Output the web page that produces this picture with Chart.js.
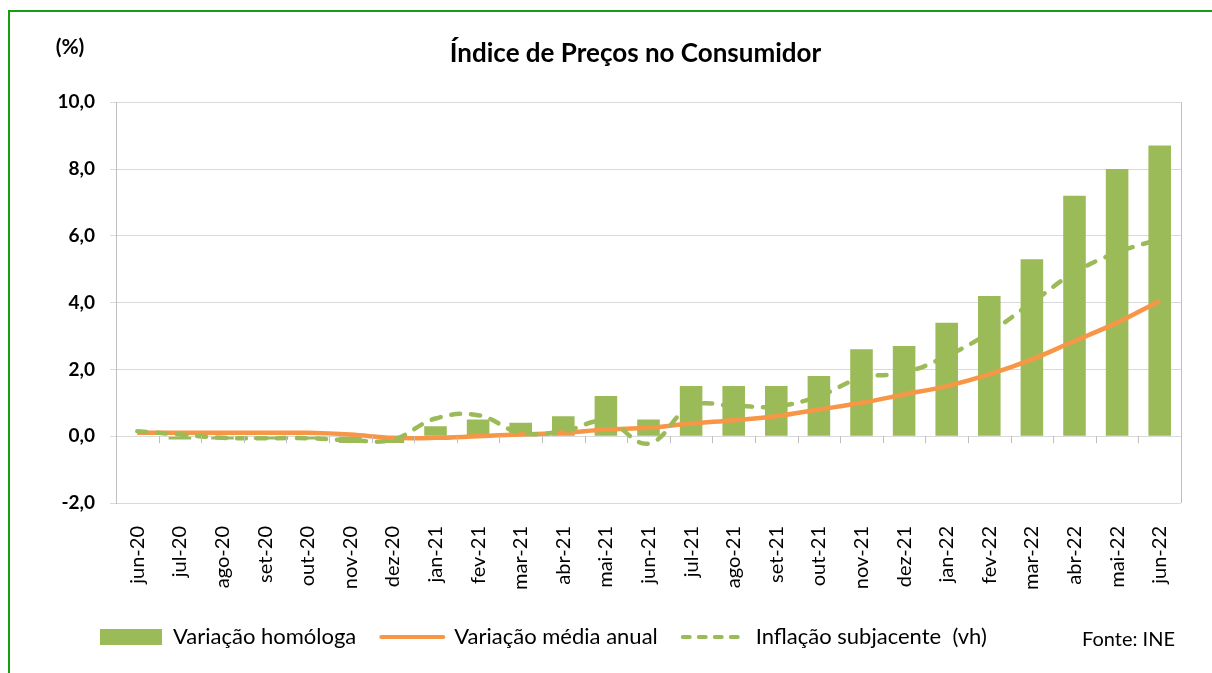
<!DOCTYPE html>
<html lang="pt">
<head>
<meta charset="utf-8">
<title>Índice de Preços no Consumidor</title>
<script src="https://cdn.jsdelivr.net/npm/chart.js@4.4.1/dist/chart.umd.min.js"></script>
<style>
  html,body{margin:0;padding:0;background:#fff;overflow:hidden}
  #wrap{position:relative;width:1212px;height:673px}
  #frame{position:absolute;left:8px;top:10px;width:1220px;height:700px;border-left:2px solid #12a012;border-top:2px solid #12a012;pointer-events:none}
  canvas{position:absolute;left:0;top:0}
</style>
</head>
<body>
<div id="wrap">
  <canvas id="chart" width="1212" height="673"></canvas>
  <div id="frame"></div>
</div>
<script>
// data
const months = ['jun-20','jul-20','ago-20','set-20','out-20','nov-20','dez-20',
  'jan-21','fev-21','mar-21','abr-21','mai-21','jun-21','jul-21','ago-21','set-21','out-21','nov-21','dez-21',
  'jan-22','fev-22','mar-22','abr-22','mai-22','jun-22'];
const homologa = [0.0,-0.1,-0.1,-0.1,-0.1,-0.2,-0.2, 0.3,0.5,0.4,0.6,1.2,0.5,1.5,1.5,1.5,1.8,2.6,2.7, 3.4,4.2,5.3,7.2,8.0,8.7];
const mediaAnual = [0.1,0.1,0.1,0.1,0.1,0.05,-0.05, -0.05,0.0,0.05,0.1,0.2,0.25,0.38,0.48,0.6,0.8,1.0,1.25, 1.5,1.85,2.3,2.85,3.4,4.05];
const subjacente = [0.15,0.05,-0.05,-0.06,-0.06,-0.12,-0.1, 0.53,0.63,0.1,0.15,0.45,-0.22,0.9,0.91,0.89,1.2,1.75,1.9, 2.4,3.1,4.0,4.9,5.5,5.9];
const yTicks = [-2,0,2,4,6,8,10];

const GREEN = '#9bbb59';
const ORANGE = '#f79646';
const GRID = '#d9d9d9';
const FONT = 'Lato, "Noto Sans", sans-serif';

const fmt = v => v.toFixed(1).replace('.', ',');

// extra bits drawn from the scales: zero-line tick marks, plot border, (%) and source
const extras = {
  id:'extras',
  afterLayout(chart){
    // legend starts further right than the layout padding, title sits a bit right of centre
    chart.legend.left = 75;
    chart.titleBlock.left += 20;
    chart.titleBlock.right += 20;
  },
  afterDraw(chart){
    const {ctx, chartArea, scales:{x, y}} = chart;
    const y0 = y.getPixelForValue(0);
    const step = x.getPixelForValue(1) - x.getPixelForValue(0);
    ctx.save();
    ctx.strokeStyle = '#bfbfbf';
    ctx.lineWidth = 1;
    ctx.beginPath();
    for(let i=0;i<=months.length;i++){
      const px = Math.round(x.getPixelForValue(i) - step/2) + 0.5;
      ctx.moveTo(px, y0);
      ctx.lineTo(px, y0 + 7);
    }
    ctx.moveTo(Math.round(chartArea.right)+0.5, chartArea.top);
    ctx.lineTo(Math.round(chartArea.right)+0.5, chartArea.bottom);
    ctx.stroke();
    ctx.fillStyle = '#000';
    ctx.font = 'bold 21px ' + FONT;
    ctx.textAlign = 'center';
    ctx.textBaseline = 'middle';
    ctx.fillText('(%)', 70, chartArea.top - 55);
    const lg = chart.legend;
    ctx.font = '20px ' + FONT;
    ctx.textAlign = 'right';
    ctx.fillText('Fonte: INE', 1175, lg.top + 39);
    ctx.restore();
  }
};

new Chart(document.getElementById('chart'), {
  data:{
    labels: months,
    datasets:[
      {type:'bar', label:'Variação homóloga', data:homologa, backgroundColor:GREEN,
        barPercentage:0.53, categoryPercentage:1, order:3},
      {type:'line', label:'Variação média anual', data:mediaAnual, borderColor:ORANGE, borderWidth:4.5,
        pointRadius:0, tension:0.4, fill:false, order:2},
      {type:'line', label:'Inflação subjacente  (vh)', data:subjacente, borderColor:GREEN, borderWidth:4.5,
        borderDash:[9,11], borderCapStyle:'round', pointRadius:0, tension:0.4, fill:false, order:1}
    ]
  },
  options:{
    responsive:false,
    animation:false,
    layout:{padding:{top:24, left:50, right:31, bottom:15}},
    plugins:{
      tooltip:{enabled:false},
      title:{display:true, text:'Índice de Preços no Consumidor', color:'#000',
        font:{family:FONT, size:26, weight:'bold'}, padding:{top:14, bottom:33}},
      legend:{
        position:'bottom', align:'start',
        labels:{
          color:'#000', font:{family:FONT, size:22}, padding:25,
          usePointStyle:true, pointStyleWidth:62, boxWidth:62, boxHeight:16,
          generateLabels(chart){
            return chart.data.datasets.map((ds,i)=>({
              text: ds.label,
              datasetIndex: i,
              hidden: false,
              fillStyle: ds.type === 'bar' ? GREEN : 'rgba(0,0,0,0)',
              strokeStyle: ds.type === 'bar' ? GREEN : ds.borderColor,
              lineWidth: ds.type === 'bar' ? 0 : 4,
              lineDash: ds.borderDash ? [7,9] : [],
              lineCap: 'round',
              pointStyle: ds.type === 'bar' ? 'rect' : 'line',
              fontColor:'#000'
            }));
          }
        }
      }
    },
    scales:{
      x:{
        grid:{display:false, drawTicks:false},
        border:{display:false},
        ticks:{color:'#000', font:{family:FONT, size:20}, minRotation:90, maxRotation:90, padding:23, autoSkip:false},
        afterFit(scale){ scale.height = 98; }
      },
      y:{
        min:-2, max:10,
        afterBuildTicks(scale){ scale.ticks = yTicks.map(v=>({value:v})); },
        grid:{color:GRID, lineWidth:1, tickLength:6, drawTicks:true},
        border:{color:'#bfbfbf'},
        ticks:{color:'#000', font:{family:FONT, size:19, weight:'bold'}, padding:15, callback:v=>fmt(v)},
        afterFit(scale){ scale.width = 66; }
      }
    }
  },
  plugins:[extras]
});
</script>
</body>
</html>
